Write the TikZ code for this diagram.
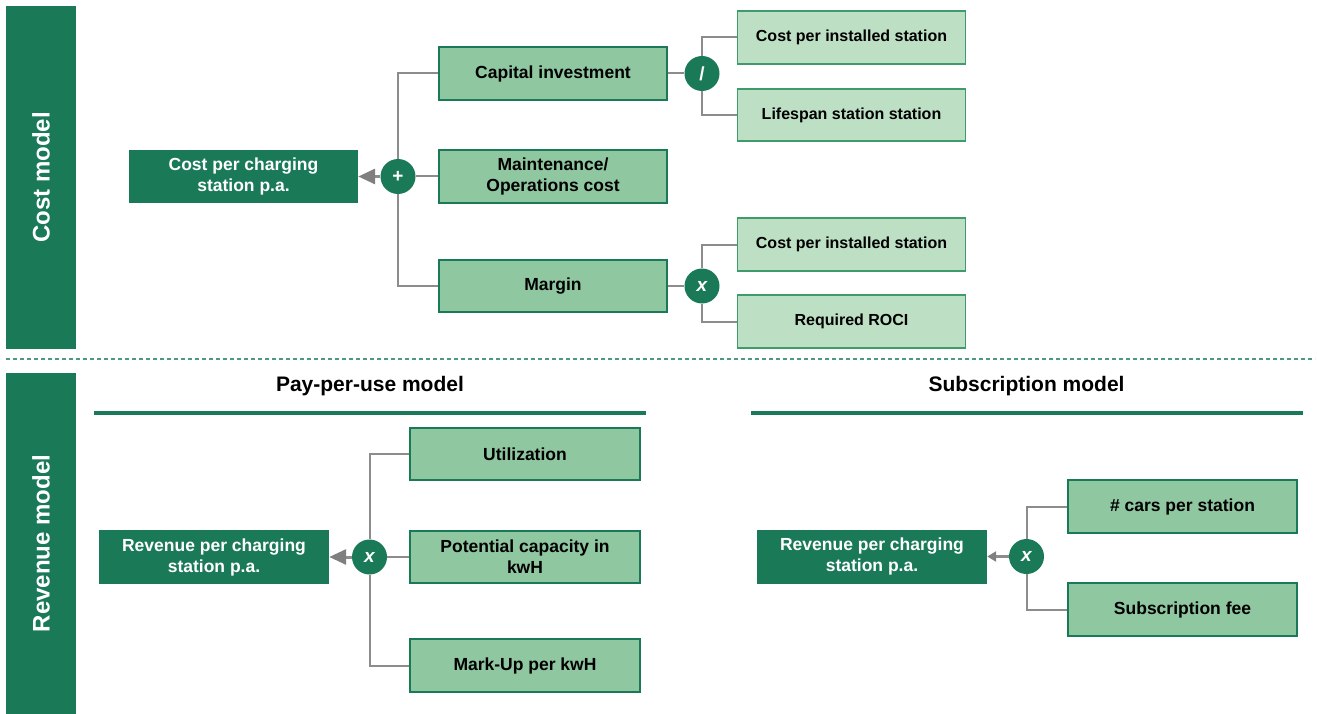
\documentclass[tikz,border=0pt]{standalone}
\usepackage{fontspec}
\setmainfont{Liberation Sans}
\usetikzlibrary{arrows.meta}
\definecolor{dkgreen}{HTML}{1A7A58}
\definecolor{midgreen}{HTML}{8FC7A0}
\definecolor{ltgreen}{HTML}{BDE0C5}
\definecolor{ltborder}{HTML}{3F9A6C}
\definecolor{linkgray}{HTML}{8C8C8C}
\definecolor{tipgray}{HTML}{7F7F7F}
\definecolor{dashgreen}{HTML}{4E9A80}
\begin{document}
\begin{tikzpicture}[x=1pt,y=-1pt,
  sidebar/.style={fill=dkgreen, draw=none, rotate=90, minimum height=70pt,
    inner sep=0pt, text=white, font=\fontsize{24}{28}\selectfont\bfseries},
  resultbox/.style={fill=dkgreen, draw=none, text=white, align=center,
    minimum width=230pt, minimum height=54pt, inner sep=2pt,
    font=\fontsize{17.5}{21}\selectfont\bfseries},
  factorbox/.style={fill=midgreen, draw=dkgreen, line width=1.1pt, text=black,
    align=center, minimum width=228pt, minimum height=52pt, inner sep=2pt,
    font=\fontsize{17.5}{21}\selectfont\bfseries},
  inputbox/.style={fill=ltgreen, draw=ltborder, line width=1.1pt, text=black,
    align=center, minimum width=228pt, minimum height=52pt, inner sep=2pt,
    font=\fontsize{16}{19}\selectfont\bfseries},
  opcircle/.style={circle, fill=dkgreen, draw=none, minimum size=35pt,
    inner sep=0pt, text=white, font=\fontsize{19}{19}\selectfont\bfseries},
  italicop/.style={opcircle, font=\fontsize{19}{19}\selectfont\bfseries\itshape},
  header/.style={text=black, font=\fontsize{21}{25}\selectfont\bfseries},
  link/.style={draw=linkgray, line width=2pt},
  bigtip/.style={draw=linkgray, line width=3pt,
    -{Triangle[length=17pt,width=15pt,color=tipgray]}},
  smalltip/.style={draw=linkgray, line width=2.5pt,
    -{Triangle[length=9pt,width=10pt,color=tipgray]}},
  rule/.style={draw=dkgreen, line width=4pt}
]
\useasboundingbox (0,0) rectangle (1317,714);

% side bars
\node[sidebar, minimum width=343pt] (costbar) at (41,177.5) {Cost model};
\node[sidebar, minimum width=341pt] (revbar) at (41,543.5) {Revenue model};

% section separator
\draw[dashgreen, line width=1.2pt, dash pattern=on 4pt off 3pt] (6,359) -- (1315,359);

% ---------------- cost tree ----------------
\node[resultbox, minimum width=229pt, minimum height=53pt] (cps) at (243.5,176.5) {Cost per charging\\station p.a.};
\node[opcircle] (plus) at (398,176.5) {+};
\node[factorbox, minimum height=53pt] (cap) at (553,73.5) {Capital investment};
\node[factorbox, minimum height=53pt] (mnt) at (553,176.5) {Maintenance/\\Operations cost};
\node[factorbox] (mar) at (553,286) {Margin};

\node[opcircle] (div) at (702,73.5) {/};
\node[inputbox, minimum height=53pt] (cpia) at (851.5,37.5) {Cost per installed station};
\node[inputbox] (life) at (851.5,115) {Lifespan station station};

\node[italicop] (mul) at (702,286) {x};
\node[inputbox, minimum height=53pt] (cpib) at (851.5,244.5) {Cost per installed station};
\node[inputbox, minimum height=53pt] (roci) at (851.5,321.5) {Required ROCI};

\draw[link] (plus.north) |- (cap.west);
\draw[link] (plus.south) |- (mar.west);
\draw[link] (plus.east) -- (mnt.west);
\draw[bigtip] (plus.west) -- (cps.east);

\draw[link] (cap.east) -- (div.west);
\draw[link] (div.north) |- (cpia.west);
\draw[link] (div.south) |- (life.west);

\draw[link] (mar.east) -- (mul.west);
\draw[link] (mul.north) |- (cpib.west);
\draw[link] (mul.south) |- (roci.west);

% ---------------- pay-per-use revenue ----------------
\node[header] (ppuhead) at (370,386) {Pay-per-use model};
\draw[rule] (94,413) -- (646,413);

\node[resultbox] (rev) at (214,557) {Revenue per charging\\station p.a.};
\node[italicop] (rmul) at (369.5,557) {x};
\node[factorbox, minimum width=230pt] (util) at (525,454) {Utilization};
\node[factorbox, minimum width=230pt] (pot) at (525,557) {Potential capacity in\\kwH};
\node[factorbox, minimum width=230pt, minimum height=53pt] (mark) at (525,665.5) {Mark-Up per kwH};

\draw[link] (rmul.north) |- (util.west);
\draw[link] (rmul.south) |- (mark.west);
\draw[link] (rmul.east) -- (pot.west);
\draw[bigtip] (rmul.west) -- (rev.east);

% ---------------- subscription revenue ----------------
\node[header] (subhead) at (1026.5,386) {Subscription model};
\draw[rule] (751,413) -- (1303,413);

\node[resultbox] (srev) at (872,556.5) {Revenue per charging\\station p.a.};
\node[italicop] (smul) at (1026.5,556.5) {x};
\node[factorbox, minimum width=229pt, minimum height=53pt] (cars) at (1182.5,506.5) {\# cars per station};
\node[factorbox, minimum width=229pt, minimum height=53pt] (fee) at (1182.5,609.5) {Subscription fee};

\draw[link] (smul.north) |- (cars.west);
\draw[link] (smul.south) |- (fee.west);
\draw[smalltip] (smul.west) -- (srev.east);
\end{tikzpicture}
\end{document}
